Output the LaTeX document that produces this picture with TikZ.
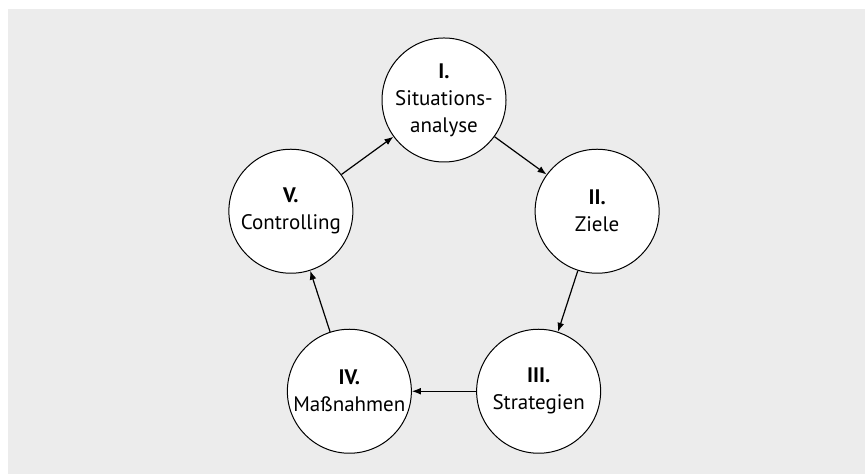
\documentclass[tikz,border=0pt]{standalone}
\usepackage{fontspec}
\setmainfont{PT Sans}
\usetikzlibrary{arrows.meta}

\begin{document}
\begin{tikzpicture}[x=0.5pt,y=0.5pt,
  phase/.style={circle,draw,line width=0.5pt,fill=white,minimum size=62pt,inner sep=0pt,align=center,font=\fontsize{10.5}{13.5}\selectfont},
  flow/.style={line width=0.6pt,-{Latex[length=4.5pt,width=3.4pt]}}]
  \useasboundingbox (-444,-213) rectangle (421,261);
  \fill[black!7.5] (-436,-213) rectangle (421,252);
  \node[phase] (ana) at (90:161) {\textbf{I.}\\Situations-\\analyse};
  \node[phase] (ziel) at (18:161) {\textbf{II.}\\Ziele};
  \node[phase] (strat) at (-54:161) {\textbf{III.}\\Strategien};
  \node[phase] (mass) at (-126:161) {\textbf{IV.}\\Maßnahmen};
  \node[phase] (contr) at (162:161) {\textbf{V.}\\Controlling};
  \draw[flow] (ana) -- (ziel);
  \draw[flow] (ziel) -- (strat);
  \draw[flow] (strat) -- (mass);
  \draw[flow] (mass) -- (contr);
  \draw[flow] (contr) -- (ana);
\end{tikzpicture}
\end{document}
